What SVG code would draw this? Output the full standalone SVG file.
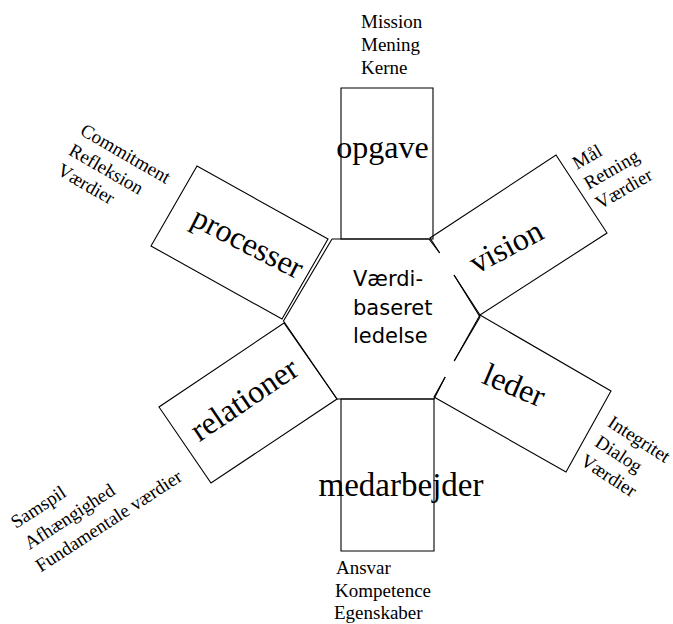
<svg xmlns="http://www.w3.org/2000/svg" width="673" height="624" viewBox="0 0 673 624">
<style>
.edge{fill:none;stroke:#000;stroke-width:1.1;stroke-linejoin:miter}
.big{font-family:"Liberation Serif","Times New Roman",serif;font-size:32px;fill:#000}
.lab{font-family:"Liberation Serif","Times New Roman",serif;font-size:19px;fill:#000}
.ctr{font-family:"DejaVu Sans",Verdana,sans-serif;font-size:21px;fill:#000}
</style>
<rect width="673" height="624" fill="#fff"/>
<g id="connectors">
<path class="edge" d="M332,239 L429,239 L439.7,253 M454,275 L480,317 L454.2,361 M445.2,377 L434,399 L337,399 L283.5,321 L332,239"/>
</g>
<g id="center">
<text class="ctr"><tspan x="353" y="286">Værdi-</tspan><tspan x="353" y="314.5">baseret</tspan><tspan x="353" y="343">ledelse</tspan></text>
</g>
<g id="opgave">
<path class="edge" d="M341,88 L433,88 L433,239 L341,239 Z"/>
<text class="big" x="382.5" y="158" text-anchor="middle">opgave</text>
<text class="lab"><tspan x="361" y="28">Mission</tspan><tspan x="361" y="51">Mening</tspan><tspan x="361" y="74">Kerne</tspan></text>
</g>
<g id="vision">
<path class="edge" d="M439.7,253 L430,238 L556,155 L607,233 L480,315 L454,275"/>
<text class="big" transform="translate(511,256) rotate(-28)" text-anchor="middle">vision</text>
<text class="lab" transform="translate(577,170) rotate(-30)"><tspan x="0" y="0">Mål</tspan><tspan x="0" y="23">Retning</tspan><tspan x="0" y="46">Værdier</tspan></text>
</g>
<g id="leder">
<path class="edge" d="M454.2,361 L480,315 L611,391 L566,472 L434,397 L445.2,377"/>
<text class="big" transform="translate(510,395) rotate(23)" text-anchor="middle">leder</text>
<text class="lab" transform="translate(606.5,425.5) rotate(33)"><tspan x="0" y="0">Integritet</tspan><tspan x="0" y="23.5">Dialog</tspan><tspan x="-2" y="47">Værdier</tspan></text>
</g>
<g id="medarbejder">
<path class="edge" d="M341,399 L434,399 L434,551 L341,551 Z"/>
<text class="big" x="401" y="496" text-anchor="middle" style="font-size:33px">medarbejder</text>
<text class="lab"><tspan x="336" y="574">Ansvar</tspan><tspan x="335" y="597">Kompetence</tspan><tspan x="334" y="619">Egenskaber</tspan></text>
</g>
<g id="relationer">
<path class="edge" d="M284,323 L159,407 L211,483 L337,399 Z"/>
<text class="big" transform="translate(250,408) rotate(-34)" text-anchor="middle">relationer</text>
<text class="lab" transform="translate(16,529) rotate(-33)"><tspan x="0" y="0">Samspil</tspan><tspan x="0" y="25">Afhængighed</tspan><tspan x="-3" y="50">Fundamentale værdier</tspan></text>
</g>
<g id="processer">
<path class="edge" d="M328,239 L197,166 L151,246 L282,319 Z"/>
<text class="big" transform="translate(243,252) rotate(27)" text-anchor="middle">processer</text>
<text class="lab" transform="translate(79,134) rotate(30)"><tspan x="0" y="0">Commitment</tspan><tspan x="0" y="23">Refleksion</tspan><tspan x="0" y="46">Værdier</tspan></text>
</g>
</svg>
